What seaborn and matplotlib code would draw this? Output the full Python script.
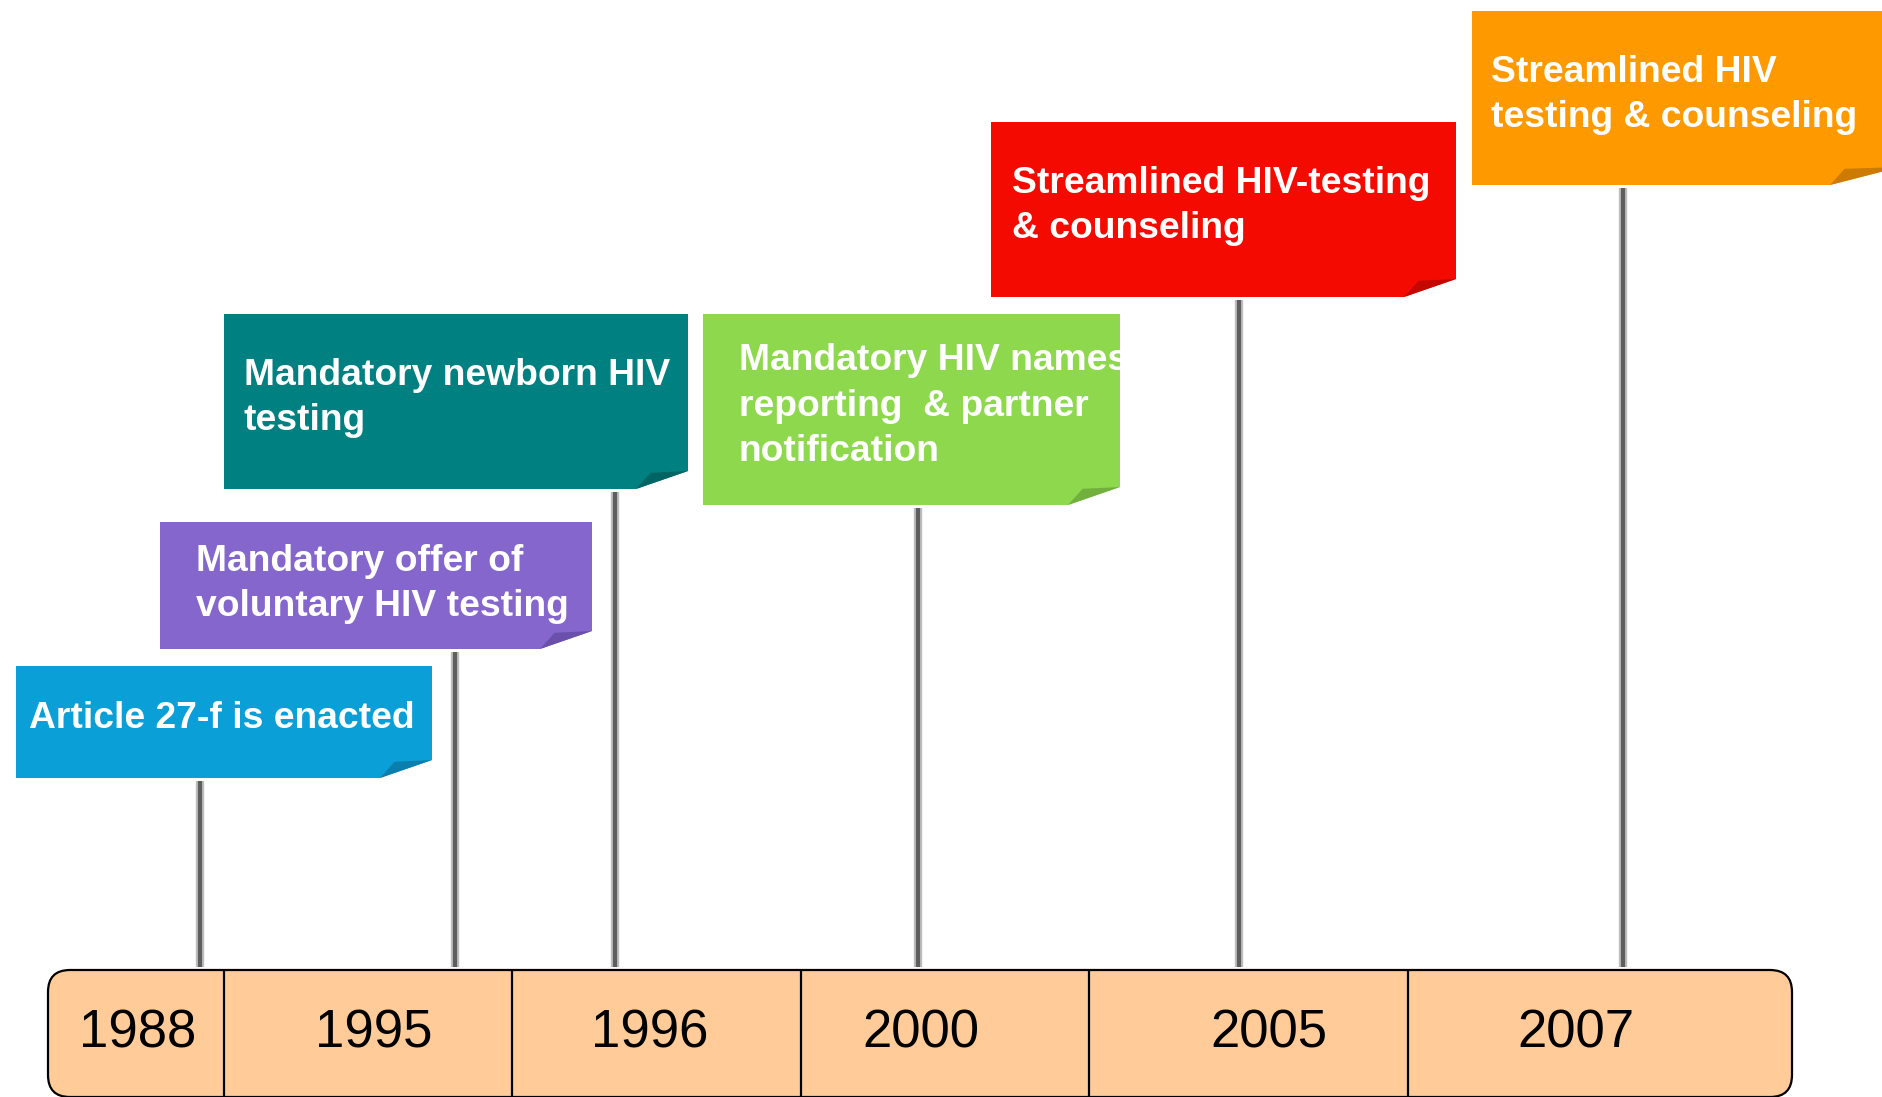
import matplotlib
matplotlib.use("Agg")
import matplotlib.pyplot as plt
import seaborn as sns
from matplotlib.patches import FancyBboxPatch, Polygon

# Timeline data
years = ["1988", "1995", "1996", "2000", "2005", "2007"]
events = [
    "Article 27-f is enacted",
    "Mandatory offer of\nvoluntary HIV testing",
    "Mandatory newborn HIV\ntesting",
    "Mandatory HIV names\nreporting  & partner\nnotification",
    "Streamlined HIV-testing\n& counseling",
    "Streamlined HIV\ntesting & counseling",
]
box_colors = ["#0A9FD6", "#8466CC", "#008080", "#8ED84E", "#F50A00", "#FF9900"]
fold_colors = ["#0A7FAE", "#6A50AA", "#006464", "#72B03E", "#C40800", "#CC7A00"]

# Layout (pixel units, y downwards)
W, H = 1882, 1097
cell_edges = [48, 224, 512, 801, 1089, 1408, 1792]
year_x = [138, 374, 650, 921, 1269, 1576]
bar_top, bar_bot = 970, 1097
post_x = [200, 455, 615, 918, 1239, 1623]
box_l = [16, 160, 224, 703, 991, 1472]
box_r = [432, 592, 688, 1120, 1456, 1900]
box_t = [666, 522, 314, 314, 122, 11]
box_b = [778, 649, 489, 505, 297, 185]
text_x = [29, 196, 244, 739, 1012, 1491]
text_y = [718, 584, 398, 406, 206, 95]
fold_w, fold_h = 52, 18

sns.set_theme(style="white")
plt.rcParams["font.family"] = ["Liberation Sans", "DejaVu Sans"]

fig = plt.figure(figsize=(W / 100, H / 100), dpi=100)
ax = fig.add_axes([0, 0, 1, 1])
ax.set_xlim(0, W)
ax.set_ylim(H, 0)
ax.axis("off")

# posts with a soft shadow
for px, bb in zip(post_x, box_b):
    ax.vlines(px, bb + 3, bar_top - 3, color="#bdbdbd", lw=6, zorder=1)
    ax.vlines(px, bb + 3, bar_top - 3, color="#5e5e5e", lw=3, zorder=2)

# event boxes with folded corner
for i, ev in enumerate(events):
    l, r, t, b = box_l[i], box_r[i], box_t[i], box_b[i]
    rr = min(r, W)
    body = Polygon([(l, t), (r, t), (r, b - fold_h), (rr - fold_w, b), (l, b)],
                   closed=True, facecolor=box_colors[i], edgecolor="none", zorder=3)
    ax.add_patch(body)
    fold = Polygon([(rr - fold_w, b), (rr - fold_w * 0.72, b - fold_h * 0.9),
                    (r, b - fold_h)],
                   closed=True, facecolor=fold_colors[i], edgecolor="none", zorder=4)
    ax.add_patch(fold)
    txt = ax.text(text_x[i], text_y[i], ev, color="white", fontsize=26.8,
                  fontweight="bold", ha="left", va="center", linespacing=1.4,
                  zorder=5)
    txt.set_clip_path(body)

# year bar
bar = FancyBboxPatch((cell_edges[0], bar_top), cell_edges[-1] - cell_edges[0],
                     bar_bot - bar_top, boxstyle="round,pad=0,rounding_size=22",
                     facecolor="#FFCC99", edgecolor="black", lw=1.6, zorder=6)
ax.add_patch(bar)
ax.vlines(cell_edges[1:-1], bar_top, bar_bot, color="black", lw=1.6, zorder=7)
for yx, yr in zip(year_x, years):
    ax.text(yx, 1033, yr, fontsize=38, color="black", ha="center", va="center",
            zorder=8)

fig.savefig("out.png", dpi=100)
